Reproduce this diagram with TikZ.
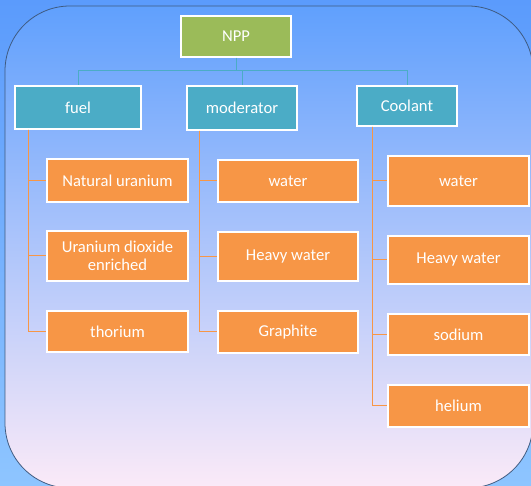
\documentclass[tikz,border=0pt]{standalone}
\usepackage{fontspec}
\setmainfont{Carlito}
\definecolor{nppgreen}{RGB}{155,187,89}
\definecolor{catteal}{RGB}{75,172,198}
\definecolor{itemorange}{RGB}{247,150,70}
\definecolor{bgtop}{RGB}{91,155,252}
\definecolor{bgbot}{RGB}{142,197,255}
\definecolor{intop}{RGB}{96,160,253}
\definecolor{inmid}{RGB}{170,205,242}
\definecolor{inbot}{RGB}{251,234,248}
\definecolor{rim}{RGB}{62,90,128}
\tikzset{
  bx/.style={draw=white,line width=1.2pt,text=white,inner sep=0pt,align=center,
    font=\fontsize{16.6}{18}\selectfont},
  rootbox/.style={bx,fill=nppgreen},
  catbox/.style={bx,fill=catteal},
  itembox/.style={bx,fill=itemorange},
  tl/.style={draw=catteal,line width=1pt},
  ol/.style={draw=itemorange,line width=1pt}
}

\begin{document}
\begin{tikzpicture}[x=1pt,y=-1pt]
\useasboundingbox (0,0) rectangle (531,486);
\clip (0,0) rectangle (531,486);
\fill[top color=bgtop,bottom color=bgbot] (0,0) rectangle (531,486);
\draw[draw=rim,line width=0.8pt,rounded corners=65pt,top color=intop,middle color=inmid,bottom color=inbot] (5,6) rectangle (533,488);
% top level
\node[rootbox,minimum width=110pt,minimum height=41pt] (npp) at (236,36.5) {NPP};
\node[catbox,minimum width=126pt,minimum height=43pt] (fuel) at (78,107.5) {fuel};
\node[catbox,minimum width=110pt,minimum height=44pt] (mod) at (242,108) {moderator};
\node[catbox,minimum width=100pt,minimum height=40pt] (cool) at (407,106) {Coolant};
\coordinate (bus) at (236,71);
\draw[tl] (npp.south) -- (bus) -| (fuel.north);
\draw[tl] (bus) -| (mod.north);
\draw[tl] (bus) -| (cool.north);
% fuel
\node[itembox,minimum width=141pt,minimum height=43pt] (f1) at (117.5,180.5) {Natural uranium};
\node[itembox,minimum width=141pt,minimum height=50pt] (f2) at (117.5,256) {Uranium dioxide\\enriched};
\node[itembox,minimum width=141pt,minimum height=41pt] (f3) at (117.5,331.5) {thorium};
\foreach \n in {f1,f2,f3}
  \draw[ol] ([xshift=14pt]fuel.south west) |- (\n.west);
% moderator
\node[itembox,minimum width=140pt,minimum height=42pt] (m1) at (288,181) {water};
\node[itembox,minimum width=140pt,minimum height=49pt] (m2) at (288,256.5) {Heavy water};
\node[itembox,minimum width=140pt,minimum height=42pt] (m3) at (288,332) {Graphite};
\foreach \n in {m1,m2,m3}
  \draw[ol] ([xshift=13pt]mod.south west) |- (\n.west);
% coolant
\node[itembox,minimum width=141pt,minimum height=50pt] (c1) at (458.5,181) {water};
\node[itembox,minimum width=141pt,minimum height=48pt] (c2) at (458.5,260) {Heavy water};
\node[itembox,minimum width=141pt,minimum height=41pt] (c3) at (458.5,334.5) {sodium};
\node[itembox,minimum width=141pt,minimum height=42pt] (c4) at (458.5,406) {helium};
\foreach \n in {c1,c2,c3,c4}
  \draw[ol] ([xshift=16pt]cool.south west) |- (\n.west);
\end{tikzpicture}
\end{document}
